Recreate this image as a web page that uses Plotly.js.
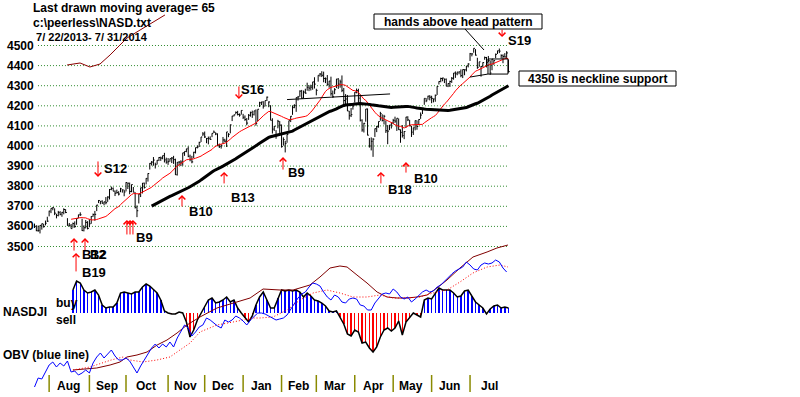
<!DOCTYPE html>
<html><head><meta charset="utf-8">
<script src="https://cdn.plot.ly/plotly-3.0.1.min.js"></script>
<style>html,body{margin:0;padding:0;background:#fff}#chart{width:800px;height:397px}</style>
</head><body><div id="chart"></div>
<script>
// ---- trading calendar: days per month, Jul 22 2013 .. Jul 31 2014
const monthNames = ['Aug','Sep','Oct','Nov','Dec','Jan','Feb','Mar','Apr','May','Jun','Jul'];
const monthDays = [8,22,20,23,20,21,21,19,21,21,21,21,22];
const priceTicks = [4500,4400,4300,4200,4100,4000,3900,3800,3700,3600,3500];

// ---- NASDAQ daily close / high / low
const close = [
3600,3579,3580,3605,3613,3599,3616,3626,
3676,3690,3693,3666,3654,3669,3660,3670,3684,3669,3606,3603,3589,3614,3600,3639,3658,3658,3579,3593,3620,3590,
3613,3649,3659,3660,3706,3729,3725,3716,3722,3718,3746,3784,3789,3775,3765,3768,3761,3787,3782,3771,
3818,3815,3774,3808,3770,3695,3678,3761,3792,3815,3794,3839,3863,3914,3920,3930,3907,3929,3943,3940,3952,3931,3920,
3922,3937,3940,3932,3857,3919,3920,3920,3966,3973,3986,3949,3932,3921,3969,3992,3995,4018,4045,4060,
4045,4037,4038,4033,4063,4069,4060,4004,3998,4001,4030,4024,4070,4058,4105,4149,4155,4167,4157,4154,4177,
4143,4132,4114,4153,4166,4156,4175,4113,4183,4215,4219,4198,4226,4243,4219,4128,4084,4098,4051,4123,4104,
3997,4032,4012,4057,4126,4148,4191,4201,4241,4244,4273,4238,4268,4263,4292,4288,4293,4319,4308,
4277,4352,4358,4352,4336,4334,4307,4323,4260,4245,4280,4333,4308,4319,4277,4226,4234,4174,4151,4156,4199,
4268,4276,4238,4128,4080,4113,4184,4054,4000,4023,4034,4086,4096,4122,4161,4127,4148,4076,4074,4104,4115,
4127,4124,4138,4081,4068,4052,4072,4144,4130,4101,4069,4091,4126,4097,4132,4154,4186,4237,4225,4248,4243,
4237,4234,4252,4296,4321,4336,4338,4332,4298,4311,4321,4337,4363,4359,4368,4369,4350,4380,4379,4398,4408,
4459,4458,4486,4452,4391,4419,4396,4415,4440,4416,4426,4363,4432,4425,4456,4474,4472,4450,4445,4443,4463,4370];
const high = [
3614,3606,3604,3606,3614,3613,3629,3648,
3678,3690,3696,3690,3663,3677,3676,3672,3690,3686,3641,3617,3612,3619,3625,3640,3658,3670,3638,3605,3632,3626,
3636,3651,3664,3677,3707,3731,3726,3730,3723,3746,3750,3786,3798,3794,3779,3783,3775,3792,3784,3782,
3820,3817,3818,3808,3796,3770,3704,3762,3793,3816,3818,3840,3864,3915,3925,3945,3917,3930,3945,3947,3952,3966,3942,
3940,3937,3945,3951,3937,3920,3925,3929,3966,3973,3986,3998,3957,3951,3971,3992,4003,4021,4045,4069,
4072,4040,4047,4048,4063,4077,4068,4063,4012,4009,4045,4036,4070,4064,4107,4150,4156,4172,4175,4162,4177,
4160,4152,4139,4159,4171,4176,4175,4182,4183,4220,4220,4223,4226,4246,4222,4203,4138,4099,4079,4130,4124,
4107,4043,4026,4058,4126,4149,4202,4208,4241,4249,4277,4279,4276,4285,4315,4302,4305,4319,4342,
4285,4352,4363,4372,4370,4341,4353,4324,4345,4276,4288,4334,4338,4330,4351,4289,4258,4254,4175,4189,4211,
4268,4286,4285,4256,4133,4115,4184,4187,4040,4043,4039,4087,4100,4122,4170,4158,4155,4127,4104,4105,4115,
4135,4146,4138,4137,4083,4104,4074,4145,4148,4130,4100,4091,4127,4127,4133,4167,4186,4237,4238,4250,4253,
4250,4236,4256,4297,4322,4340,4340,4336,4336,4312,4325,4343,4363,4371,4369,4370,4381,4381,4382,4398,4412,
4463,4462,4486,4482,4439,4419,4398,4416,4445,4443,4448,4426,4433,4427,4460,4474,4485,4456,4456,4462,4472,4430];
const low = [
3592,3576,3573,3565,3584,3594,3605,3622,
3650,3666,3680,3656,3640,3650,3655,3648,3660,3666,3603,3600,3589,3593,3593,3608,3640,3652,3577,3575,3590,3585,
3596,3613,3648,3628,3676,3716,3710,3712,3705,3710,3722,3734,3780,3775,3751,3764,3754,3770,3768,3750,
3774,3786,3760,3770,3770,3689,3646,3714,3746,3764,3788,3809,3823,3883,3903,3902,3888,3908,3925,3926,3934,3918,3912,
3906,3922,3915,3911,3856,3853,3903,3900,3902,3951,3969,3944,3924,3914,3940,3963,3988,3995,4020,4050,
4040,4014,4008,4030,4044,4065,4054,3999,3990,3987,4010,4018,3995,4044,4063,4124,4147,4158,4152,4146,4156,
4134,4125,4103,4130,4146,4140,4152,4101,4123,4194,4204,4186,4197,4224,4193,4128,4062,4075,4036,4088,4065,
3992,4002,3968,4016,4076,4119,4155,4188,4170,4226,4245,4235,4237,4260,4275,4273,4276,4280,4286,
4252,4320,4345,4343,4317,4313,4300,4290,4250,4240,4258,4288,4284,4290,4268,4199,4205,4174,4131,4144,4181,
4216,4262,4215,4122,4071,4067,4121,4053,3992,3978,3946,4045,4069,4091,4126,4122,4107,4065,4009,4079,4087,
4108,4115,4075,4080,4016,4042,4034,4091,4124,4098,4045,4055,4078,4081,4104,4135,4159,4205,4218,4230,4227,
4213,4217,4220,4254,4306,4317,4322,4313,4297,4293,4294,4314,4330,4339,4352,4357,4342,4338,4352,4371,4391,
4423,4446,4464,4450,4384,4394,4345,4393,4429,4391,4418,4354,4377,4404,4437,4458,4462,4435,4412,4440,4434,4365];

// ---- NASDJI (every 2nd trading day starting day 21)
const nasdjiStart = 21, nasdjiStep = 2;
const nasdji = [
0.115,0.16,0.15,0.115,0.10,0.105,0.115,0.09,0.04,0.025,
0.03,0.03,0.05,0.10,0.105,0.10,0.095,0.105,0.105,0.13,
0.145,0.135,0.115,0.10,0.065,0.01,0.0,-0.005,-0.005,0.005,
0.0,-0.045,-0.12,-0.085,-0.035,0.0,0.035,0.065,0.075,0.05,
0.055,0.065,0.08,0.055,0.065,0.025,0.0,-0.025,-0.045,-0.015,
0.04,0.08,0.105,0.065,0.025,0.025,0.075,0.115,0.11,0.115,
0.11,0.115,0.105,0.08,0.10,0.085,0.065,0.06,0.05,0.035,
0.01,0.005,0.01,-0.02,-0.055,-0.105,-0.115,-0.085,-0.095,-0.15,
-0.145,-0.175,-0.195,-0.17,-0.12,-0.085,-0.075,-0.09,-0.075,-0.04,
-0.11,-0.045,-0.02,0.0,-0.01,-0.02,0.065,0.075,0.07,0.10,
0.125,0.115,0.115,0.115,0.10,0.08,0.085,0.11,0.115,0.085,
0.055,0.04,0.025,-0.005,0.02,0.035,0.04,0.025,0.03,0.025];

// ---- OBV (relative units, every 2nd trading day from day 0)
const obvStart = 0, obvStep = 2;
const obv = [
3,12,11,18,25,28,23,27,24,29,
18,19,15,17,20,17,27,33,37,32,
36,40,34,30,30,32,29,23,17,24,
30,37,42,46,42,46,43,48,43,52,
59,65,62,54,58,63,65,72,70,67,
64,62,70,68,70,74,72,69,65,70,
74,77,77,76,74,72,70,71,72,75,
81,87,92,96,98,103,107,106,104,98,
93,90,95,93,88,87,91,92,91,85,
84,80,80,87,91,96,97,96,101,98,
93,91,93,88,91,95,98,100,98,99,
103,105,109,113,116,119,121,123,128,125,
121,120,125,127,126,127,130,128,122,118];
// maroon and red dotted lines of the lower panel
const slowDay = [21,28.7,34,41.3,46.7,50.5,56,61.5,67,72.4,77.9,83.3,90.4,99.7,108.5,117.8,124.9,134.2,141.3,150.5,156,161.5,166.9,170.8,176.2,181.7,187.2,192.6,198.1,203.6,209,214.5,219.9,225.4,232.5,239.6,247.3,252.7,258.7];
const slowVal = [20,21,22,25,28,33,35,38,45,50,57,65,73,82,87,92,101,100,100,105,113,122,124,123,115,107,98,93,92,92,93,95,102,110,122,133,138,142,145];
const dotDay = [21,30.3,41.9,48.4,52.2,59.3,66.9,74,79.5,85,90.4,99.7,108.5,119.4,123.2,130.3,138,145.1,152.2,159.8,166.9,174,181.7,188.8,196,203.6,210.7,217.8,225.4,232.5,239.6,247.3,254.4,258.7];
const dotVal = [20,23,30,33,30,28,30,33,40,47,58,65,68,72,72,73,80,90,97,100,97,93,93,95,92,92,93,97,100,108,117,123,125,123];
// stray dark-red curve at top left
const topDay = [17.8,24.9,30.3,35.8,41.3,45.1,50.5,57.7,64.8,71.3];
const topVal = [4403,4413,4393,4408,4453,4488,4537,4577,4617,4652];

// ---- signals
const arrowDay = [21.6,22.7,27.6,50.5,52.2,53.8,34.7,80.6,103.6,111.7,135.8,189.3,203,255.5];
const arrowTip = [3542,3468,3542,3632,3632,3632,3846,3756,3871,4234,3945,3871,3920,4542];
const arrowDir = ['up','up','up','up','up','up','down','up','up','down','up','up','up','down'];
const arrowLen = [14,20,14,16,16,16,17,13,13,14,14,13,12,9];
const sigText = ['B12','B2','B19','B9','S12','B10','B13','S16','B9','B18','B10','S19'];
const sigDay = [25.4,29.8,25.4,54.9,37.4,83.9,106.8,112.3,138,192.6,206.8,258.2];
const sigPrice = [3458,3458,3373,3547,3886,3672,3746,4279,3866,3786,3836,4527];

// ---------- build ----------
const F = 'Liberation Sans, Arial, sans-serif';
const n = Math.min(close.length, high.length, low.length);
const days = Array.from({length:n}, (_, i) => i);
function sma(arr, p){ return arr.map((_, i) => i < p-1 ? null : arr.slice(i-p+1, i+1).reduce((a,b)=>a+b,0)/p); }
const ma21 = sma(close.slice(0,n), 21), ma65 = sma(close.slice(0,n), 65);

const bx = [], by = [];
for (let i = 0; i < n; i++) {
  bx.push(i, i, null, i, i+0.7, null);
  by.push(low[i], high[i], null, close[i], close[i], null);
}
const njx = nasdji.map((_, k) => nasdjiStart + k*nasdjiStep);
const obx = obv.map((_, k) => obvStart + k*obvStep);

const traces = [
  {x: slowDay, y: slowVal, yaxis:'y3', mode:'lines', line:{color:'#800000', width:1}},
  {x: dotDay, y: dotVal, yaxis:'y3', mode:'lines', line:{color:'#ff0000', width:1, dash:'1px,2px'}},
  {x: njx, y: nasdji, yaxis:'y2', type:'bar', width:0.8, marker:{color: nasdji.map(v => v >= 0 ? '#0000ff' : '#ff0000'), line:{width:0}}},
  {x: njx, y: nasdji, yaxis:'y2', mode:'lines', line:{color:'#000', width:1.5}},
  {x: obx, y: obv, yaxis:'y3', mode:'lines', line:{color:'#0000ff', width:1}},
  {x: bx, y: by, mode:'lines', line:{color:'#000', width:1}, connectgaps:false},
  {x: days, y: ma21, mode:'lines', line:{color:'#ff0000', width:1}},
  {x: days, y: ma65, mode:'lines', line:{color:'#000', width:3}},
  {x: topDay, y: topVal, mode:'lines', line:{color:'#8b0000', width:1}}
];

const W = 800, H = 397;
function txt(t, px, py, size, bold, anchor){
  return {xref:'paper', yref:'paper', x:px/W, y:1-py/H, text: bold ? '<b>'+t+'</b>' : t,
    showarrow:false, xanchor:anchor||'left', yanchor:'middle', borderpad:0,
    font:{family:F, size:size, color:'#000'}};
}
const ann = [];
ann.push(txt('Last drawn moving average= 65', 32, 7.5, 12, true));
ann.push(txt('c:\\peerless\\NASD.txt', 32, 22.5, 12, true));
ann.push(txt(' 7/ 22/2013- 7/ 31/2014', 32, 37, 11, true));
priceTicks.forEach(p => ann.push({xref:'paper', yref:'y', x:6/W, y:p, text:'<b>'+p+'</b>', showarrow:false,
  xanchor:'left', yanchor:'middle', borderpad:0, font:{family:F, size:12, color:'#000'}}));
ann.push(txt('NASDJI', 2, 312, 12, true));
ann.push(txt('buy', 55, 303, 12, true));
ann.push(txt('sell', 55, 320, 12, true));
ann.push(txt('OBV (blue line)', 2, 355, 12, true));
ann.push(txt('hands above head pattern', 458, 22, 12, true, 'center'));
ann.push(txt('4350 is neckline support', 597.5, 79, 12, true, 'center'));

// months
const mStart = []; let acc = 0;
monthDays.forEach(d => { mStart.push(acc); acc += d; });
const shapes = [];
monthNames.forEach((m, k) => {
  const s = mStart[k+1], e = (k+2 < mStart.length) ? mStart[k+2] : acc;
  ann.push({xref:'x', yref:'paper', x:(s+e)/2 - 0.5, y:1-386/H, text:'<b>'+m+'</b>', showarrow:false,
    xanchor:'center', yanchor:'middle', borderpad:0, font:{family:F, size:12, color:'#000'}});
  shapes.push({type:'line', xref:'x', yref:'paper', x0:s, x1:s, y0:1-375/H, y1:1-392/H, line:{color:'#8a8a00', width:1.5}});
});
// gridlines
priceTicks.forEach(p => shapes.push({type:'line', xref:'x', yref:'y', x0:1.9, x1:258.2, y0:p, y1:p, layer:'below',
  line:{color:'#2e8b2e', width:1, dash:'1px,2px'}}));
// boxes & pattern lines
shapes.push({type:'rect', xref:'paper', yref:'paper', x0:374/W, x1:542/W, y0:1-14/H, y1:1-29/H, line:{color:'#000', width:1}});
shapes.push({type:'rect', xref:'paper', yref:'paper', x0:519/W, x1:676/W, y0:1-71/H, y1:1-86/H, line:{color:'#000', width:1}});
shapes.push({type:'line', xref:'paper', yref:'paper', x0:465/W, x1:484/W, y0:1-29/H, y1:1-50/H, line:{color:'#000', width:1}});
shapes.push({type:'line', xref:'x', yref:'y', x0:138, x1:194.3, y0:4231, y1:4259, line:{color:'#000', width:1}});
shapes.push({type:'line', xref:'x', yref:'y', x0:238, x1:247.8, y0:4343, y1:4358, line:{color:'#000', width:1}});
shapes.push({type:'rect', xref:'x', yref:'y', x0:247.8, x1:258.7, y0:4358, y1:4433, line:{color:'#000', width:1}});

// signal arrows & labels
arrowDay.forEach((d, k) => ann.push({xref:'x', yref:'y', x:d, y:arrowTip[k], ax:0,
  ay: arrowDir[k] === 'up' ? arrowLen[k] : -arrowLen[k], text:'', showarrow:true,
  arrowhead:4, arrowsize:1.3, arrowwidth:1, arrowcolor:'#ff0000', standoff:0}));
sigText.forEach((t, k) => ann.push({xref:'x', yref:'y', x:sigDay[k], y:sigPrice[k], text:'<b>'+t+'</b>', showarrow:false,
  xanchor:'left', yanchor:'middle', borderpad:0, font:{family:F, size:13, color:'#000'}}));

const layout = {
  width: W, height: H, margin:{l:0, r:0, t:0, b:0}, showlegend:false,
  paper_bgcolor:'#fff', plot_bgcolor:'#fff', hovermode:false, bargap:0,
  xaxis:{range:[-18.85, 418.3], visible:false, fixedrange:true},
  yaxis:{range:[2751.2, 4726.4], visible:false, fixedrange:true},
  yaxis2:{range:[-0.42, 1.565], overlaying:'y', visible:false, fixedrange:true},
  yaxis3:{range:[-7, 390], overlaying:'y', visible:false, fixedrange:true},
  annotations: ann, shapes: shapes
};
Plotly.newPlot('chart', traces, layout, {staticPlot:true, displayModeBar:false});
</script></body></html>
